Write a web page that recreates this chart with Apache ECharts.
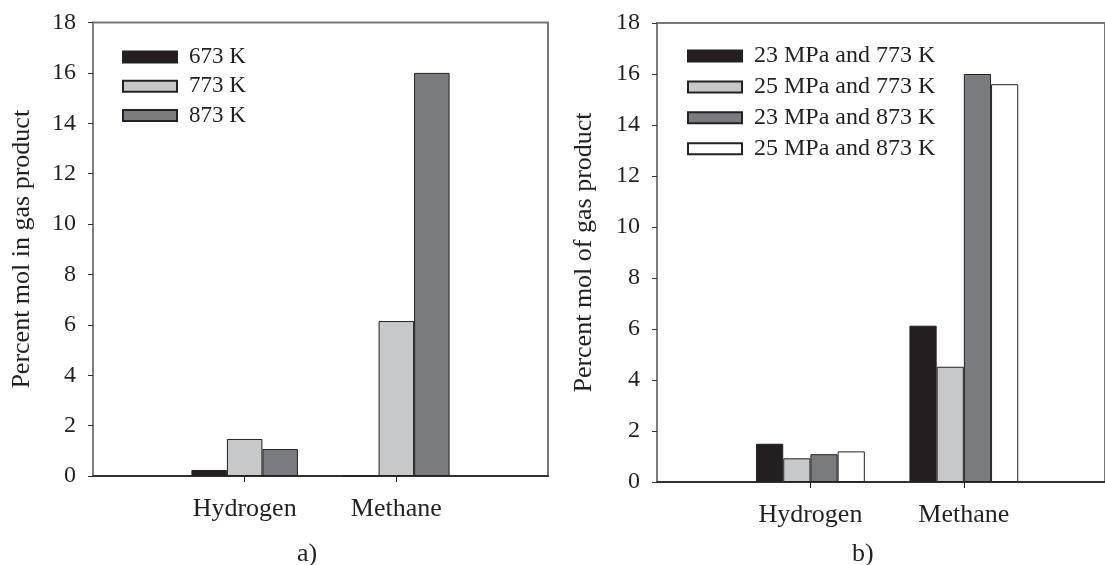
<!DOCTYPE html>
<html>
<head>
<meta charset="utf-8">
<script src="https://cdn.jsdelivr.net/npm/echarts@6/dist/echarts.min.js"></script>
<style>
  html, body { margin: 0; padding: 0; background: #ffffff; }
  #chart { width: 1105px; height: 565px; }
</style>
</head>
<body>
<div id="chart"></div>
<script>
// Gas product categories (placed at x = 1 and x = 2 on each panel)
const categories = ['Hydrogen', 'Methane'];
const yMin = 0, yMax = 18, yStep = 2;

// Panel a) — effect of temperature
const tempNames = ['673 K', '773 K', '873 K'];
const temp673 = [0.24, 0];
const temp773 = [1.47, 6.15];
const temp873 = [1.07, 16.0];

// Panel b) — effect of pressure and temperature
const condNames = ['23 MPa and 773 K', '25 MPa and 773 K', '23 MPa and 873 K', '25 MPa and 873 K'];
const cond23_773 = [1.50, 6.13];
const cond25_773 = [0.93, 4.52];
const cond23_873 = [1.09, 16.0];
const cond25_873 = [1.20, 15.6];

const FONT = "'Liberation Serif', 'Times New Roman', serif";
const INK = '#231f20';
const FILLS = { black: '#231f20', light: '#c7c8ca', dark: '#7a7b7f', white: '#ffffff' };

const toPoints = vals => vals.map((v, i) => [i + 1, v]);

function barSeries(name, vals, color, gridIdx, width) {
  return {
    type: 'bar', name: name,
    xAxisIndex: gridIdx, yAxisIndex: gridIdx,
    data: toPoints(vals),
    barWidth: width, barGap: '0%',
    itemStyle: { color: color, borderColor: '#222222', borderWidth: 1 },
    emphasis: { disabled: true },
    animation: false
  };
}

function xAxisFor(gridIdx, max) {
  return {
    type: 'value', gridIndex: gridIdx, min: 0, max: max,
    splitLine: { show: false },
    axisLine: { show: true, onZero: false, lineStyle: { color: '#1a1a1a', width: 1.5 } },
    axisTick: { show: true, inside: false, length: 6, customValues: [1, 2],
                lineStyle: { color: '#1a1a1a', width: 1 } },
    axisLabel: { customValues: [1, 2], margin: 20, fontFamily: FONT, fontSize: 26, color: INK,
                 formatter: v => categories[Math.round(v) - 1] || '' }
  };
}

function yAxisFor(gridIdx, title, gap) {
  return {
    type: 'value', gridIndex: gridIdx, min: yMin, max: yMax, interval: yStep,
    splitLine: { show: false },
    axisLine: { show: true, lineStyle: { color: '#7f7f7f', width: 1.6 } },
    axisTick: { show: true, length: 5, lineStyle: { color: '#333333', width: 1 } },
    axisLabel: { margin: 17, fontFamily: FONT, fontSize: 24, color: INK },
    name: title, nameLocation: 'middle', nameGap: gap, nameRotate: 90,
    nameTextStyle: { fontFamily: FONT, fontSize: 26, color: INK }
  };
}

function legendFor(names, left, top, gap, fontSize) {
  return {
    orient: 'vertical', left: left, top: top, padding: 0,
    itemWidth: 54, itemHeight: 11, itemGap: gap,
    icon: 'rect', selectedMode: false,
    data: names,
    textStyle: { fontFamily: FONT, fontSize: fontSize, color: INK, lineHeight: 22, padding: [0, 0, 0, 7] }
  };
}

const option = {
  backgroundColor: '#ffffff',
  animation: false,
  grid: [
    { left: 93, top: 22.5, width: 455, height: 453.5, show: true,
      borderColor: '#777777', borderWidth: 2, backgroundColor: 'transparent' },
    { left: 657, top: 23, width: 450, height: 459, show: true,
      borderColor: '#777777', borderWidth: 2, backgroundColor: 'transparent' }
  ],
  legend: [
    legendFor(tempNames, 122, 45.5, 6.3, 23),
    legendFor(condNames, 687, 44, 6.9, 24)
  ],
  xAxis: [xAxisFor(0, 3), xAxisFor(1, 2.92)],
  yAxis: [
    yAxisFor(0, 'Percent mol in gas product', 58),
    yAxisFor(1, 'Percent mol of gas product', 60)
  ],
  series: [
    barSeries(tempNames[0], temp673, FILLS.black, 0, 35.5),
    barSeries(tempNames[1], temp773, FILLS.light, 0, 35.5),
    barSeries(tempNames[2], temp873, FILLS.dark, 0, 35.5),
    barSeries(condNames[0], cond23_773, FILLS.black, 1, 27.2),
    barSeries(condNames[1], cond25_773, FILLS.light, 1, 27.2),
    barSeries(condNames[2], cond23_873, FILLS.dark, 1, 27.2),
    barSeries(condNames[3], cond25_873, FILLS.white, 1, 27.2)
  ],
  graphic: [
    { type: 'text', left: 297, top: 541,
      style: { text: 'a)', font: '26px ' + FONT, fill: INK } },
    { type: 'text', left: 852, top: 541,
      style: { text: 'b)', font: '26px ' + FONT, fill: INK } }
  ]
};

const chart = echarts.init(document.getElementById('chart'), null, { renderer: 'canvas' });
chart.setOption(option);
</script>
</body>
</html>
